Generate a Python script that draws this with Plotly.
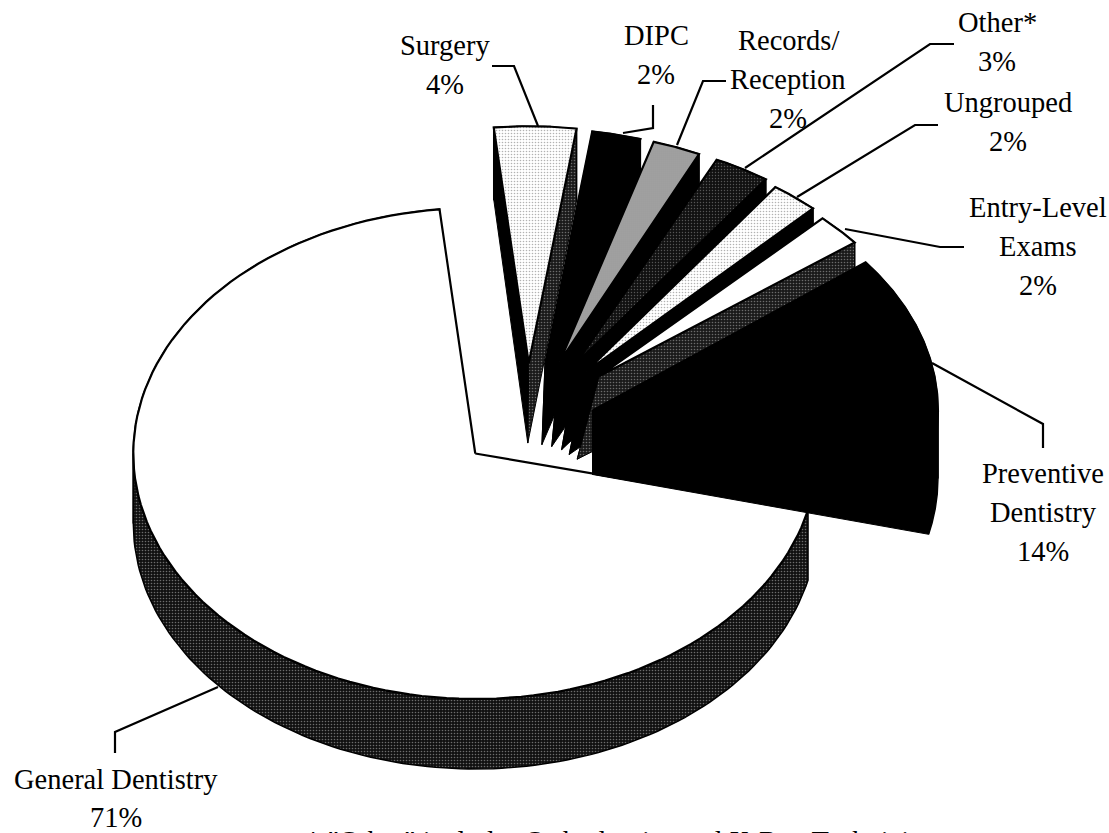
import math
import plotly.graph_objects as go

# ---- data -------------------------------------------------------------
names = ["General Dentistry", "Preventive Dentistry", "Entry-Level Exams", "Ungrouped",
         "Other*", "Records/Reception", "DIPC", "Surgery"]
shares = [70.6, 14.4, 2.4, 2.4, 2.8, 2.4, 2.4, 4.0]
label_lines = [["General Dentistry"], ["Preventive", "Dentistry"], ["Entry-Level", "Exams"],
               ["Ungrouped"], ["Other*"], ["Records/", "Reception"], ["DIPC"], ["Surgery"]]
footnote = '* "Other" includes Orthodontics and X-Ray Technicians'

# ---- appearance -------------------------------------------------------
FONT = "Liberation Serif"
FONT_SIZE = 28.5
W, H = 1109, 833
CX, CY = 525, 430          # pie centre before explosion
RX, RY = 342, 248          # ellipse radii
START = 96                 # angle of the General/Surgery boundary
pull = [0.18, 0.22, 0.30, 0.30, 0.30, 0.30, 0.27, 0.27]
nudge = [(-3.5, -6), (-6, -8), (-2, -4), (-4, -1), (0, -3), (-2, 1), (0, 0), (2, 0)]
scale_x = [1.0, 1.01, 0.945, 0.96, 0.96, 0.955, 0.97, 0.98]
scale_y = [0.99, 0.975, 0.88, 0.91, 0.905, 0.925, 0.95, 0.955]
rim_depth = [70, 68, 78, 78, 78, 78, 76, 72]
tip_drop = [(0, 70), (0, 64), (-22, 83), (-17, 83), (-15, 87), (-8, 85), (-3, 80), (-1, 80)]

def solid(c):
    return dict(color=c)

def stip(bg, fg, size=3, sol=0.35):
    return dict(pattern=dict(shape=".", bgcolor=bg, fgcolor=fg, size=size, solidity=sol))

BLACK = solid("#000000")
DARK = stip("#1a1a1a", "#bbbbbb", 3, 0.22)
LIGHT = stip("#ffffff", "#666666", 3, 0.22)
styles = [
    dict(top=solid("#ffffff"), arc=stip("#111111", "#c8c8c8", 3, 0.22), left=None, right=None),
    dict(top=BLACK, arc=BLACK, left=BLACK, right=BLACK),
    dict(top=solid("#ffffff"), arc=DARK, left=DARK, right=DARK),
    dict(top=LIGHT, arc=BLACK, left=BLACK, right=BLACK),
    dict(top=stip("#111111", "#999999", 3, 0.18), arc=BLACK, left=BLACK, right=BLACK),
    dict(top=stip("#888888", "#ffffff", 2, 0.4), arc=BLACK, left=BLACK, right=BLACK),
    dict(top=BLACK, arc=BLACK, left=BLACK, right=BLACK),
    dict(top=LIGHT, arc=BLACK, left=BLACK, right=DARK),
]

# elbows running from each slice's rim to its label
leaders = {
    "General Dentistry": [(218, 687), (115, 732), (115, 753)],
    "Preventive Dentistry": [(932, 363), (1043, 424), (1043, 448)],
    "Entry-Level Exams": [(845, 229), (940, 247), (964, 247)],
    "Ungrouped": [(797, 197), (915, 125), (938, 125)],
    "Other*": [(745, 168), (930, 44), (954, 44)],
    "Records/Reception": [(677, 145), (703, 81), (726, 81)],
    "DIPC": [(623, 133), (653, 128), (653, 105)],
    "Surgery": [(538, 126), (514, 66), (492, 66)],
}
label_pos = {
    "General Dentistry": (116, 779), "Preventive Dentistry": (1043, 473),
    "Entry-Level Exams": (1038, 207), "Ungrouped": (1008, 102), "Other*": (997, 22),
    "Records/Reception": (788, 40), "DIPC": (656, 35), "Surgery": (445, 45),
}
LINE_GAP = 39

# ---- geometry derived from the shares --------------------------------
def pt(x0, y0, rx, ry, t):
    a = math.radians(t)
    return x0 + rx * math.cos(a), y0 - ry * math.sin(a)

def arc(x0, y0, rx, ry, t0, t1, n=120):
    return [pt(x0, y0, rx, ry, t0 + (t1 - t0) * i / n) for i in range(n + 1)]

total = sum(shares)
spans = {}
cur = START                     # General runs counter-clockwise from START
for name, val in zip(names, shares):
    sweep = 360 * val / total
    spans[name] = (cur, cur + sweep)
    cur += sweep

fig = go.Figure()

def poly(points, fill, lw=1.5):
    xs, ys = zip(*points)
    kw = dict(fillcolor=fill["color"]) if "color" in fill else dict(fillpattern=fill["pattern"], fillcolor=fill["pattern"]["bgcolor"])
    fig.add_trace(go.Scatter(x=list(xs) + [xs[0]], y=list(ys) + [ys[0]], mode="lines", fill="toself",
                             line=dict(color="#000000", width=lw), hoverinfo="skip", showlegend=False, **kw))

order = [0, 7, 6, 5, 4, 3, 2, 1]
for i in order:
    name = names[i]
    t0, t1 = spans[name]
    mid = (t0 + t1) / 2
    ax, ay = pt(CX, CY, RX * pull[i], RY * pull[i], mid)
    ax += nudge[i][0]
    ay += nudge[i][1]
    rx, ry = RX * scale_x[i], RY * scale_y[i]
    st = styles[i]
    d = rim_depth[i]
    tip = (ax + tip_drop[i][0], ay + tip_drop[i][1])
    # outer wall, split where the rim turns back so the silhouette stays filled
    breaks = [t0] + [k * 180 for k in range(0, 4) if t0 < k * 180 < t1] + [t1]
    for a0, a1 in zip(breaks, breaks[1:]):
        rim = arc(ax, ay, rx, ry, a0, a1)
        low = [(x, y + d) for x, y in rim]
        poly(rim + low[::-1], st["arc"])
    for key, t in (("left", t1), ("right", t0)):
        if st[key] is not None:
            e = pt(ax, ay, rx, ry, t)
            poly([(ax, ay), e, (e[0], e[1] + d), tip], st[key], 1)
    poly([(ax, ay)] + arc(ax, ay, rx, ry, t0, t1), st["top"], 2.2)

shapes = []
for name, path in leaders.items():
    dpath = "M " + " L ".join(f"{x},{y}" for x, y in path)
    shapes.append(dict(type="path", path=dpath, xref="x", yref="y", line=dict(color="#000000", width=2.2)))

annotations = []
for name, lines, val in zip(names, label_lines, shares):
    x, y = label_pos[name]
    gap = 38 if name == "General Dentistry" else LINE_GAP
    for k, text in enumerate(lines + [f"{round(val)}%"]):
        annotations.append(dict(x=x, y=y + k * gap, text=text, xref="x", yref="y", showarrow=False,
                                xanchor="center", yanchor="middle", font=dict(family=FONT, size=FONT_SIZE, color="#000000")))
annotations.append(dict(x=304, y=824, text=footnote, xref="x", yref="y", showarrow=False, xanchor="left",
                        yanchor="top", font=dict(family=FONT, size=FONT_SIZE, color="#000000")))

fig.update_layout(
    width=W, height=H, margin=dict(l=0, r=0, t=0, b=0),
    paper_bgcolor="#ffffff", plot_bgcolor="#ffffff",
    xaxis=dict(range=[0, W], visible=False, fixedrange=True),
    yaxis=dict(range=[H, 0], visible=False, fixedrange=True),
    shapes=shapes, annotations=annotations, showlegend=False,
)
fig.write_html("out.html", config=dict(displayModeBar=False),
               post_script="document.body.style.margin='0';document.body.style.overflow='hidden';")
